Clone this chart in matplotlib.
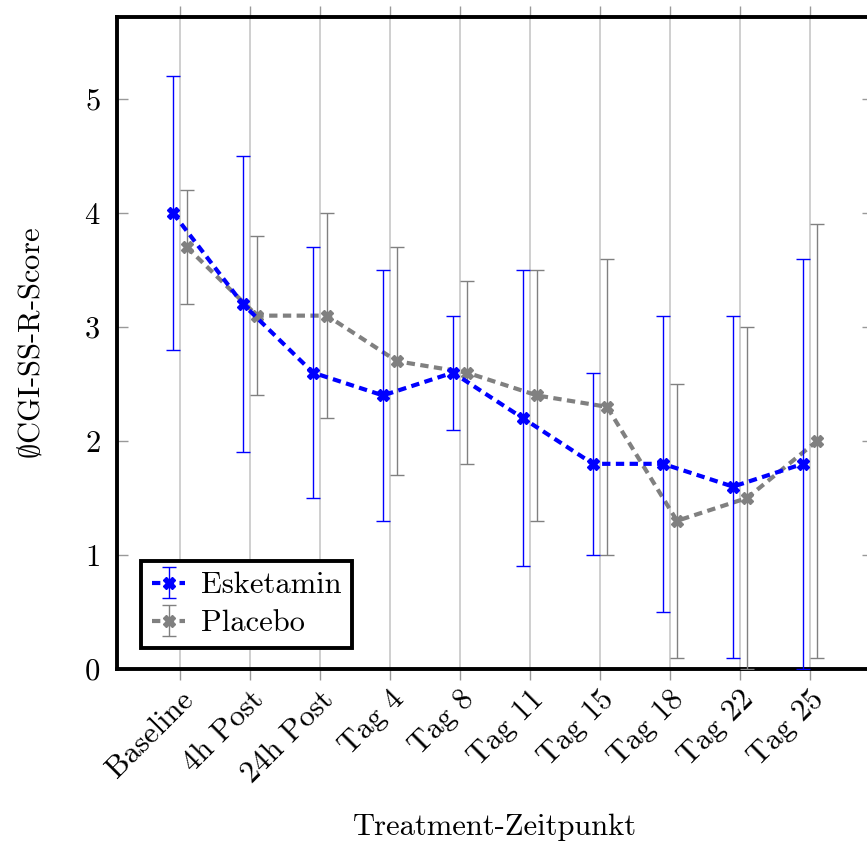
import matplotlib
matplotlib.use("Agg")
import matplotlib.pyplot as plt
import numpy as np

plt.rcParams['font.family'] = ['cmr10', 'DejaVu Serif']
plt.rcParams['mathtext.fontset'] = 'cm'
plt.rcParams['axes.formatter.use_mathtext'] = True

# data
zeitpunkte = ['Baseline', '4h Post', '24h Post', 'Tag 4', 'Tag 8', 'Tag 11',
              'Tag 15', 'Tag 18', 'Tag 22', 'Tag 25']
esketamin = [4.0, 3.2, 2.6, 2.4, 2.6, 2.2, 1.8, 1.8, 1.6, 1.8]
esketamin_err = [1.2, 1.3, 1.1, 1.1, 0.5, 1.3, 0.8, 1.3, 1.5, 1.8]
placebo = [3.7, 3.1, 3.1, 2.7, 2.6, 2.4, 2.3, 1.3, 1.5, 2.0]
placebo_err = [0.5, 0.7, 0.9, 1.0, 0.8, 1.1, 1.3, 1.2, 1.5, 1.9]

x = np.arange(len(zeitpunkte))

fig = plt.figure(figsize=(8.67, 8.43), dpi=100)
ax = fig.add_axes([117 / 867, 174 / 843, 756 / 867, 652 / 843])

ax.errorbar(x - 0.1, esketamin, yerr=esketamin_err, color='blue', lw=3,
            ls=(0, (2, 1.3)), marker='X', ms=8, elinewidth=1, capsize=5,
            capthick=1, label='Esketamin', zorder=4)
ax.errorbar(x + 0.1, placebo, yerr=placebo_err, color='gray', lw=3,
            ls=(0, (2, 1.3)), marker='X', ms=8, elinewidth=1, capsize=5,
            capthick=1, label='Placebo', zorder=3)

ax.set_xlim(-0.9, 9.9)
ax.set_ylim(0, 5.72)
ax.set_xticks(x)
ax.set_xticklabels(zeitpunkte, rotation=45, ha='right', rotation_mode='anchor')
ax.set_yticks([0, 1, 2, 3, 4, 5])
ax.grid(axis='x', color='#cccccc', lw=1.3)
ax.set_axisbelow(True)

ax.tick_params(axis='x', direction='out', length=8, width=1, color='#999999',
               top=True, labelsize=22, pad=4)
ax.tick_params(axis='y', direction='in', length=8, width=1, color='#999999',
               right=True, labelsize=22, pad=12)

for s in ax.spines.values():
    s.set_linewidth(2.8)

ax.set_xlabel('Treatment-Zeitpunkt', fontsize=22, labelpad=18)
ax.set_ylabel(r'$\emptyset$CGI-SS-R-Score', fontsize=22, labelpad=28)

leg = ax.legend(loc='lower left', bbox_to_anchor=(0.032, 0.032), fontsize=22,
                fancybox=False, framealpha=1, edgecolor='black',
                borderaxespad=0, handlelength=1.1, borderpad=0.35,
                handletextpad=0.5, labelspacing=0.35)
leg.get_frame().set_linewidth(2.8)

fig.savefig('out.png', dpi=100)
